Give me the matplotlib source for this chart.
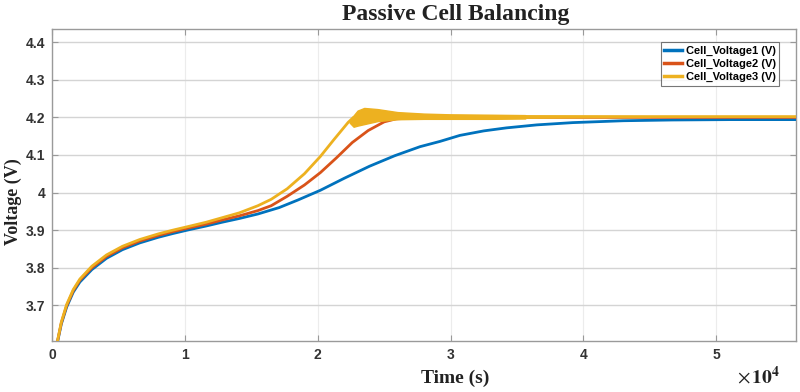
import matplotlib
matplotlib.use("Agg")
import matplotlib.pyplot as plt

plt.rcParams['mathtext.fontset'] = 'stix'

# time in units of 1e4 s, voltages in V
t1 = [0.04, 0.07, 0.11, 0.16, 0.21, 0.30, 0.41, 0.53, 0.66, 0.80, 0.91, 1.03, 1.16, 1.28, 1.41,
      1.55, 1.71, 1.85, 2.02, 2.20, 2.39, 2.58, 2.77, 2.92, 3.07, 3.25, 3.42, 3.65, 3.92, 4.30,
      4.67, 5.10, 5.60]
v1 = [3.600, 3.650, 3.695, 3.735, 3.762, 3.795, 3.825, 3.848, 3.866, 3.881, 3.891, 3.901, 3.911,
      3.921, 3.931, 3.943, 3.960, 3.980, 4.006, 4.038, 4.070, 4.098, 4.122, 4.136, 4.152, 4.164,
      4.172, 4.180, 4.186, 4.191, 4.193, 4.194, 4.194]

t2 = [0.04, 0.07, 0.11, 0.16, 0.21, 0.30, 0.41, 0.53, 0.66, 0.80, 0.91, 1.03, 1.16, 1.28, 1.41,
      1.55, 1.65, 1.77, 1.90, 2.02, 2.14, 2.26, 2.38, 2.50, 2.59, 2.65, 2.80, 3.00, 3.50, 4.50,
      5.60]
v2 = [3.602, 3.653, 3.699, 3.739, 3.767, 3.800, 3.830, 3.853, 3.871, 3.886, 3.896, 3.906, 3.916,
      3.927, 3.938, 3.952, 3.965, 3.990, 4.020, 4.053, 4.092, 4.133, 4.165, 4.188, 4.196, 4.197,
      4.198, 4.199, 4.200, 4.200, 4.200]

t3 = [0.04, 0.07, 0.11, 0.16, 0.21, 0.30, 0.41, 0.53, 0.66, 0.80, 0.91, 1.03, 1.16, 1.28, 1.41,
      1.55, 1.65, 1.77, 1.90, 2.02, 2.12, 2.23, 2.27, 2.35, 2.50, 2.70, 3.00, 3.56, 4.50, 5.60]
v3 = [3.603, 3.655, 3.702, 3.742, 3.770, 3.804, 3.834, 3.857, 3.875, 3.890, 3.900, 3.910, 3.921,
      3.933, 3.946, 3.965, 3.982, 4.010, 4.050, 4.096, 4.140, 4.187, 4.200, 4.205, 4.206, 4.204,
      4.203, 4.202, 4.202, 4.202]

# oscillation envelope of cell 3 after it hits 4.2 V
band_t = [2.24, 2.27, 2.30, 2.35, 2.45, 2.60, 2.80, 3.00, 3.30, 3.56, 3.57, 4.00, 4.50]
band_hi = [4.192, 4.205, 4.218, 4.225, 4.222, 4.214, 4.210, 4.208, 4.207, 4.206, 4.205, 4.204, 4.203]
band_lo = [4.186, 4.175, 4.178, 4.182, 4.190, 4.195, 4.196, 4.196, 4.196, 4.197, 4.199, 4.200, 4.201]

xticks = [0, 1, 2, 3, 4, 5]
yticks = [3.7, 3.8, 3.9, 4.0, 4.1, 4.2, 4.3, 4.4]
ytick_labels = ['3.7', '3.8', '3.9', '4', '4.1', '4.2', '4.3', '4.4']

c1, c2, c3 = '#0072BD', '#D95319', '#EDB120'

fig = plt.figure(figsize=(8, 3.92), dpi=100)
ax = fig.add_axes([0.065, 0.130, 0.930, 0.796])

ax.plot(t1, v1, color=c1, lw=2.0, label='Cell_Voltage1 (V)', zorder=3)
ax.plot(t2, v2, color=c2, lw=2.0, label='Cell_Voltage2 (V)', zorder=4)
ax.plot(t3, v3, color=c3, lw=2.0, label='Cell_Voltage3 (V)', zorder=5)
ax.fill_between(band_t, band_lo, band_hi, color=c3, lw=1.0, zorder=5)

ax.set_xlim(0, 5.6)
ax.set_ylim(3.605, 4.435)
ax.set_xticks(xticks)
ax.set_xticklabels([str(x) for x in xticks])
ax.set_yticks(yticks)
ax.set_yticklabels(ytick_labels)

ax.yaxis.grid(True, color='#d4d4d4', lw=1.0)
ax.xaxis.grid(True, color='#ececec', lw=0.8)
ax.set_axisbelow(True)
ax.tick_params(direction='in', length=4, color='#999999', top=True, right=True,
               labelsize=10, labelcolor='#333333', pad=5)
for lab in ax.get_xticklabels() + ax.get_yticklabels():
    lab.set_fontfamily('Liberation Sans')
    lab.set_fontweight('bold')
for sp in ax.spines.values():
    sp.set_color('#9a9a9a')
    sp.set_linewidth(1.0)

serif = 'Liberation Serif'
fig.text(0.570, 0.949, 'Passive Cell Balancing', fontfamily=serif, fontweight='bold',
         fontsize=17, color='#222222', ha='center', va='baseline')
fig.text(0.017, 0.485, 'Voltage (V)', fontfamily=serif, fontweight='bold', fontsize=13,
         color='#222222', ha='center', va='center', rotation=90)
fig.text(0.569, 0.022, 'Time (s)', fontfamily=serif, fontweight='bold', fontsize=14,
         color='#222222', ha='center', va='baseline')
fig.text(0.975, 0.022, r'$\times\,\mathbf{10^4}$', fontsize=14, color='#222222',
         ha='right', va='baseline')

leg = ax.legend(loc='upper right', bbox_to_anchor=(0.977, 0.958), prop={'family': 'Liberation Sans',
                'weight': 'bold', 'size': 8}, frameon=True, fancybox=False,
                handlelength=1.6, handletextpad=0.3, borderpad=0.3, labelspacing=0.3,
                borderaxespad=0)
leg.get_frame().set_edgecolor('#555555')
leg.get_frame().set_linewidth(0.8)
for line in leg.get_lines():
    line.set_linewidth(2.5)

fig.savefig('out.png', dpi=100)
